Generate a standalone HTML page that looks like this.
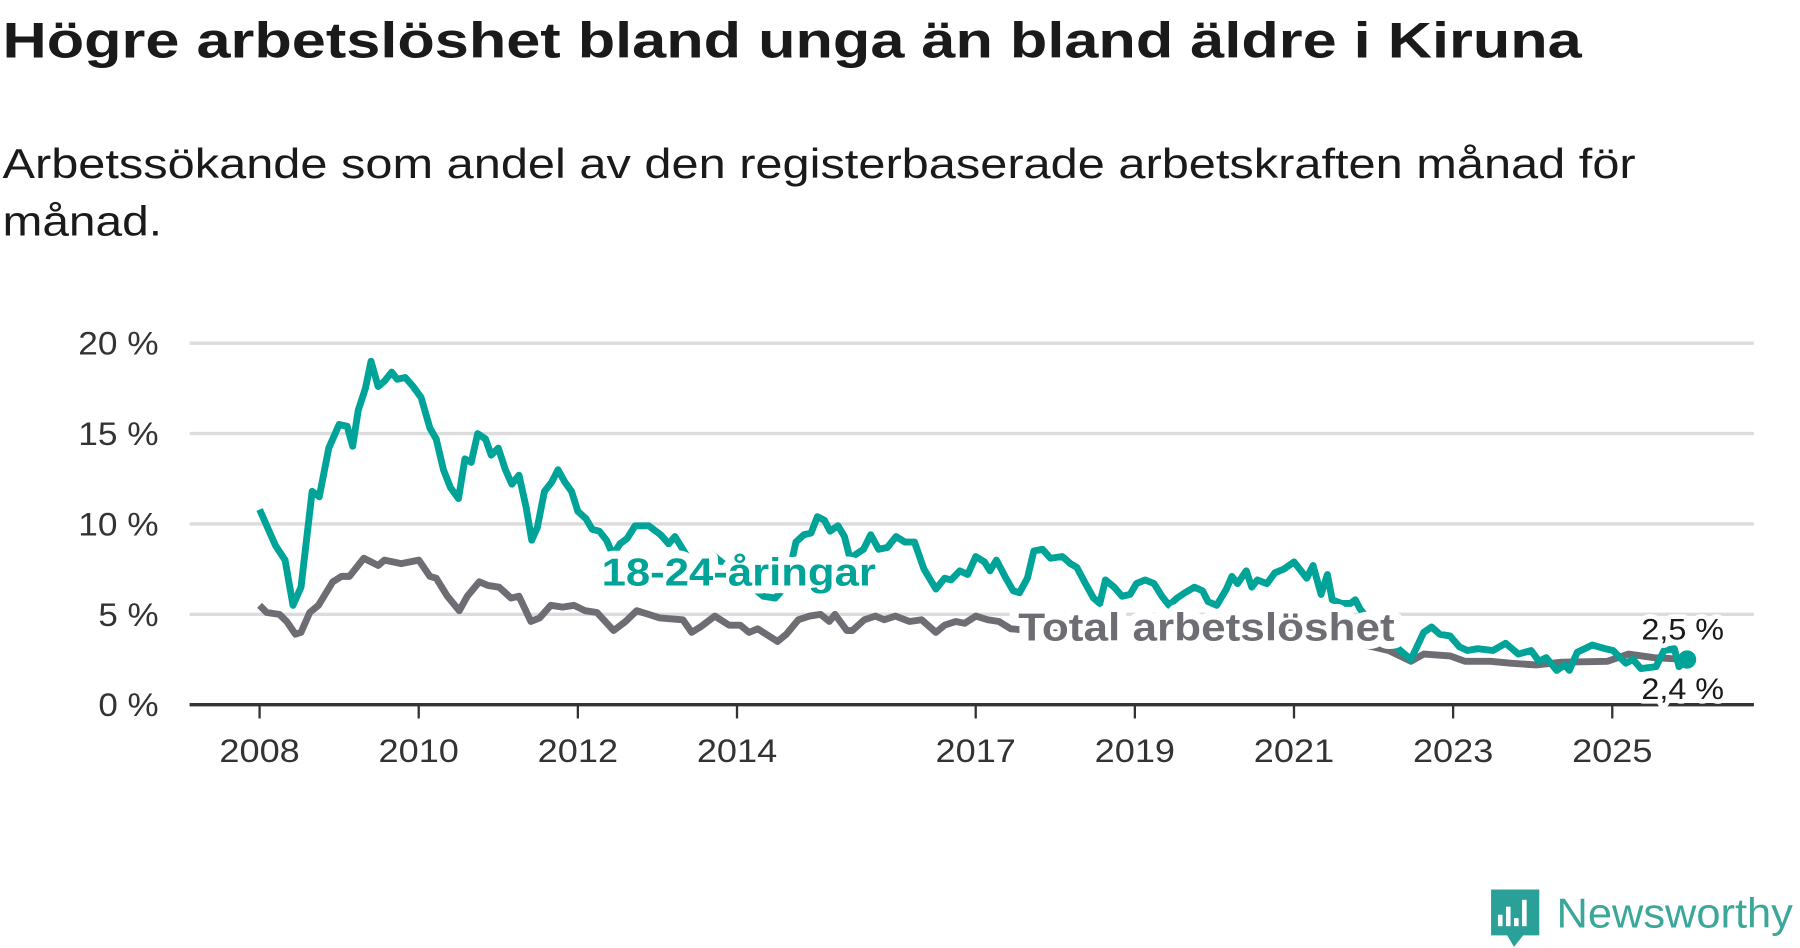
<!DOCTYPE html>
<html><head><meta charset="utf-8"><style>
html,body{margin:0;padding:0;background:#fff;}
svg{display:block;font-family:"Liberation Sans",sans-serif;}
</style></head><body>
<svg id="chart" width="1800" height="948" viewBox="0 0 1568 826" xmlns="http://www.w3.org/2000/svg">
<text x="2" y="50" font-size="44" font-weight="bold" fill="#1a1a1a" textLength="1376" lengthAdjust="spacingAndGlyphs">Högre arbetslöshet bland unga än bland äldre i Kiruna</text>
<text x="2" y="155" font-size="36" fill="#1a1a1a" textLength="1423" lengthAdjust="spacingAndGlyphs">Arbetssökande som andel av den registerbaserade arbetskraften månad för</text>
<text x="2" y="205" font-size="36" fill="#1a1a1a" textLength="139" lengthAdjust="spacingAndGlyphs">månad.</text>
<g id="grid"></g>
<g id="yaxis"></g>
<g id="xaxis"></g>
<g id="series"></g>
<g id="labels"></g>
<g>
<path d="M1299 775 h42 v40 h-14 l-8 10 l-6 -10 h-14 z" fill="#2aa198"/>
<rect x="1305" y="797" width="4" height="10" fill="#fff"/>
<rect x="1312" y="790" width="4" height="17" fill="#fff"/>
<rect x="1319" y="800" width="4" height="7" fill="#fff"/>
<rect x="1326" y="784" width="4" height="23" fill="#fff"/>
<text x="1356" y="808" font-size="36" fill="#3aa79a" textLength="206" lengthAdjust="spacingAndGlyphs">Newsworthy</text>
</g>
</svg>
<script>
const yTicks = [0, 5, 10, 15, 20];
const yTickLabels = ["0 %", "5 %", "10 %", "15 %", "20 %"];
const xTicks = [2008, 2010, 2012, 2014, 2017, 2019, 2021, 2023, 2025];
const youthDates = [2008.00,2008.20,2008.32,2008.42,2008.52,2008.66,2008.75,2008.87,2009.00,2009.10,2009.17,2009.24,2009.33,2009.40,2009.49,2009.57,2009.66,2009.73,2009.83,2009.93,2010.03,2010.14,2010.22,2010.31,2010.40,2010.50,2010.58,2010.66,2010.74,2010.84,2010.91,2011.00,2011.09,2011.17,2011.26,2011.35,2011.42,2011.49,2011.58,2011.67,2011.75,2011.84,2011.92,2012.00,2012.10,2012.18,2012.27,2012.36,2012.44,2012.53,2012.62,2012.72,2012.89,2013.04,2013.14,2013.22,2013.32,2013.40,2013.54,2013.69,2013.83,2014.00,2014.19,2014.33,2014.48,2014.62,2014.74,2014.84,2014.93,2015.01,2015.10,2015.17,2015.27,2015.35,2015.42,2015.59,2015.68,2015.78,2015.89,2016.00,2016.11,2016.23,2016.35,2016.50,2016.61,2016.69,2016.80,2016.90,2017.00,2017.11,2017.18,2017.26,2017.38,2017.47,2017.55,2017.65,2017.73,2017.84,2017.94,2018.09,2018.19,2018.27,2018.38,2018.48,2018.56,2018.63,2018.74,2018.84,2018.94,2019.02,2019.13,2019.24,2019.34,2019.43,2019.53,2019.63,2019.75,2019.85,2019.92,2020.03,2020.15,2020.22,2020.29,2020.40,2020.47,2020.54,2020.66,2020.76,2020.87,2021.00,2021.16,2021.24,2021.34,2021.42,2021.48,2021.60,2021.71,2021.77,2021.83,2022.06,2022.31,2022.47,2022.63,2022.73,2022.83,2022.96,2023.08,2023.18,2023.31,2023.50,2023.66,2023.82,2023.98,2024.08,2024.17,2024.30,2024.40,2024.46,2024.56,2024.75,2024.91,2025.01,2025.17,2025.26,2025.36,2025.55,2025.65,2025.78,2025.84,2025.94];
const youthValues = [10.8,8.8,8.0,5.5,6.5,11.8,11.5,14.2,15.5,15.4,14.3,16.3,17.5,19.0,17.6,17.9,18.4,18.0,18.1,17.6,17.0,15.3,14.7,13.0,12.0,11.4,13.6,13.4,15.0,14.7,13.8,14.2,13.0,12.2,12.7,10.9,9.1,9.8,11.8,12.3,13.0,12.3,11.8,10.7,10.3,9.7,9.6,9.1,8.3,8.9,9.2,9.9,9.9,9.4,8.9,9.3,8.6,8.0,7.5,8.3,7.8,7.5,6.5,6.0,5.9,6.6,9.0,9.4,9.5,10.4,10.2,9.6,9.9,9.3,8.1,8.6,9.4,8.6,8.7,9.3,9.0,9.0,7.5,6.4,7.0,6.9,7.4,7.2,8.2,7.9,7.4,8.0,7.0,6.3,6.2,7.0,8.5,8.6,8.1,8.2,7.8,7.6,6.7,5.9,5.6,6.9,6.5,6.0,6.1,6.7,6.9,6.7,6.0,5.5,5.9,6.2,6.5,6.3,5.7,5.5,6.4,7.1,6.7,7.4,6.5,6.9,6.7,7.3,7.5,7.9,7.0,7.7,6.1,7.2,5.8,5.6,5.6,5.8,5.3,4.0,3.1,2.5,4.0,4.3,3.9,3.8,3.2,3.0,3.1,3.0,3.4,2.8,3.0,2.4,2.6,1.9,2.2,1.9,2.9,3.3,3.1,3.0,2.3,2.5,2.0,2.1,3.0,3.1,2.1,2.5];
const totalDates = [2008.00,2008.09,2008.25,2008.34,2008.45,2008.52,2008.63,2008.74,2008.92,2009.03,2009.13,2009.31,2009.49,2009.57,2009.78,2010.00,2010.14,2010.22,2010.36,2010.51,2010.61,2010.76,2010.87,2011.01,2011.16,2011.26,2011.41,2011.52,2011.66,2011.81,2011.95,2012.09,2012.24,2012.45,2012.60,2012.74,2012.89,2013.03,2013.32,2013.43,2013.54,2013.72,2013.90,2014.04,2014.15,2014.26,2014.51,2014.62,2014.77,2014.91,2015.05,2015.16,2015.23,2015.38,2015.45,2015.60,2015.74,2015.85,2015.99,2016.17,2016.32,2016.50,2016.61,2016.75,2016.86,2017.00,2017.15,2017.29,2017.44,2018.00,2019.00,2020.00,2021.00,2021.80,2022.19,2022.47,2022.63,2022.96,2023.15,2023.47,2023.72,2024.04,2024.37,2024.94,2025.20,2025.52,2025.94];
const totalValues = [5.5,5.1,5.0,4.6,3.9,4.0,5.1,5.5,6.8,7.1,7.1,8.1,7.7,8.0,7.8,8.0,7.1,7.0,6.0,5.2,6.0,6.8,6.6,6.5,5.9,6.0,4.6,4.8,5.5,5.4,5.5,5.2,5.1,4.1,4.6,5.2,5.0,4.8,4.7,4.0,4.3,4.9,4.4,4.4,4.0,4.2,3.5,3.9,4.7,4.9,5.0,4.6,5.0,4.1,4.1,4.7,4.9,4.7,4.9,4.6,4.7,4.0,4.4,4.6,4.5,4.9,4.7,4.6,4.2,4.0,3.8,3.9,4.3,3.4,3.0,2.4,2.8,2.7,2.4,2.4,2.3,2.2,2.35,2.4,2.8,2.6,2.5];
const lastYouth = "2,5 %";
const lastTotal = "2,4 %";

const NS = "http://www.w3.org/2000/svg";
const X0 = 165, X1 = 1528;
function xScale(yr){ return 226 + (yr - 2008) * 69.33; }
function yScale(v){ return 614 - v * 15.75; }
function mk(tag, attrs, parent){ const e = document.createElementNS(NS, tag); for (const k in attrs) e.setAttribute(k, attrs[k]); parent.appendChild(e); return e; }

const grid = document.getElementById('grid'), yaxis = document.getElementById('yaxis'), xaxis = document.getElementById('xaxis');
yTicks.forEach((t, i) => {
  if (t !== 0) {
    const l = mk('line', {x1: X0, x2: X1, y1: yScale(t), y2: yScale(t), stroke: '#dcdcdc', 'stroke-width': 3}, grid);
    
    
  }
  const lbl = yTickLabels[i];
  const tx = mk('text', {x: 138, y: yScale(t) + 10, 'text-anchor': 'end', 'font-size': 28, fill: '#333', textLength: lbl.length * 17.5, lengthAdjust: 'spacingAndGlyphs'}, yaxis);
  tx.textContent = lbl;
  
  
});
xTicks.forEach(t => {
  const l = mk('line', {x1: xScale(t), x2: xScale(t), y1: 614, y2: 626, stroke: '#333', 'stroke-width': 2}, xaxis);
  
  
  const tx = mk('text', {x: xScale(t), y: 664, 'text-anchor': 'middle', 'font-size': 28, fill: '#333', textLength: 70, lengthAdjust: 'spacingAndGlyphs'}, xaxis);
  tx.textContent = String(t);
  
  
});

const series = document.getElementById('series');
function pathOf(ds, vs){ return ds.map((d, i) => (i ? 'L' : 'M') + xScale(d).toFixed(1) + ' ' + yScale(vs[i]).toFixed(1)).join(' '); }
const tl = mk('path', {d: pathOf(totalDates, totalValues), fill: 'none', stroke: '#6e6d73', 'stroke-width': 6, 'stroke-linejoin': 'round'}, series);


const yl = mk('path', {d: pathOf(youthDates, youthValues), fill: 'none', stroke: '#00a398', 'stroke-width': 6, 'stroke-linejoin': 'round'}, series);


const axisLine = mk('line', {x1: X0, x2: X1, y1: 614, y2: 614, stroke: '#333', 'stroke-width': 3}, series);


const li = youthDates.length - 1;
const dot = mk('circle', {cx: xScale(youthDates[li]), cy: yScale(youthValues[li]), r: 8, fill: '#00a398'}, series);



const labels = document.getElementById('labels');
function lab(txt, x, y, size, weight, fill, name, len, sw){
  const t = mk('text', {x: x, y: y, 'font-size': size, 'font-weight': weight, fill: fill, stroke: '#fff', 'stroke-width': sw, 'paint-order': 'stroke', 'stroke-linejoin': 'round', textLength: len, lengthAdjust: 'spacingAndGlyphs'}, labels);
  t.textContent = txt;
  
  
}
lab('18-24-åringar', 524, 510, 34, 'bold', '#00a398', 'youth-series-label', 239, 14);
lab('Total arbetslöshet', 887, 558, 34, 'bold', '#6e6d73', 'total-series-label', 328, 14);
lab(lastYouth, 1430, 557, 26, 'normal', '#1a1a1a', 'youth-end-value', 72, 8);
lab(lastTotal, 1430, 609, 26, 'normal', '#1a1a1a', 'total-end-value', 72, 8);
</script>
</body></html>
